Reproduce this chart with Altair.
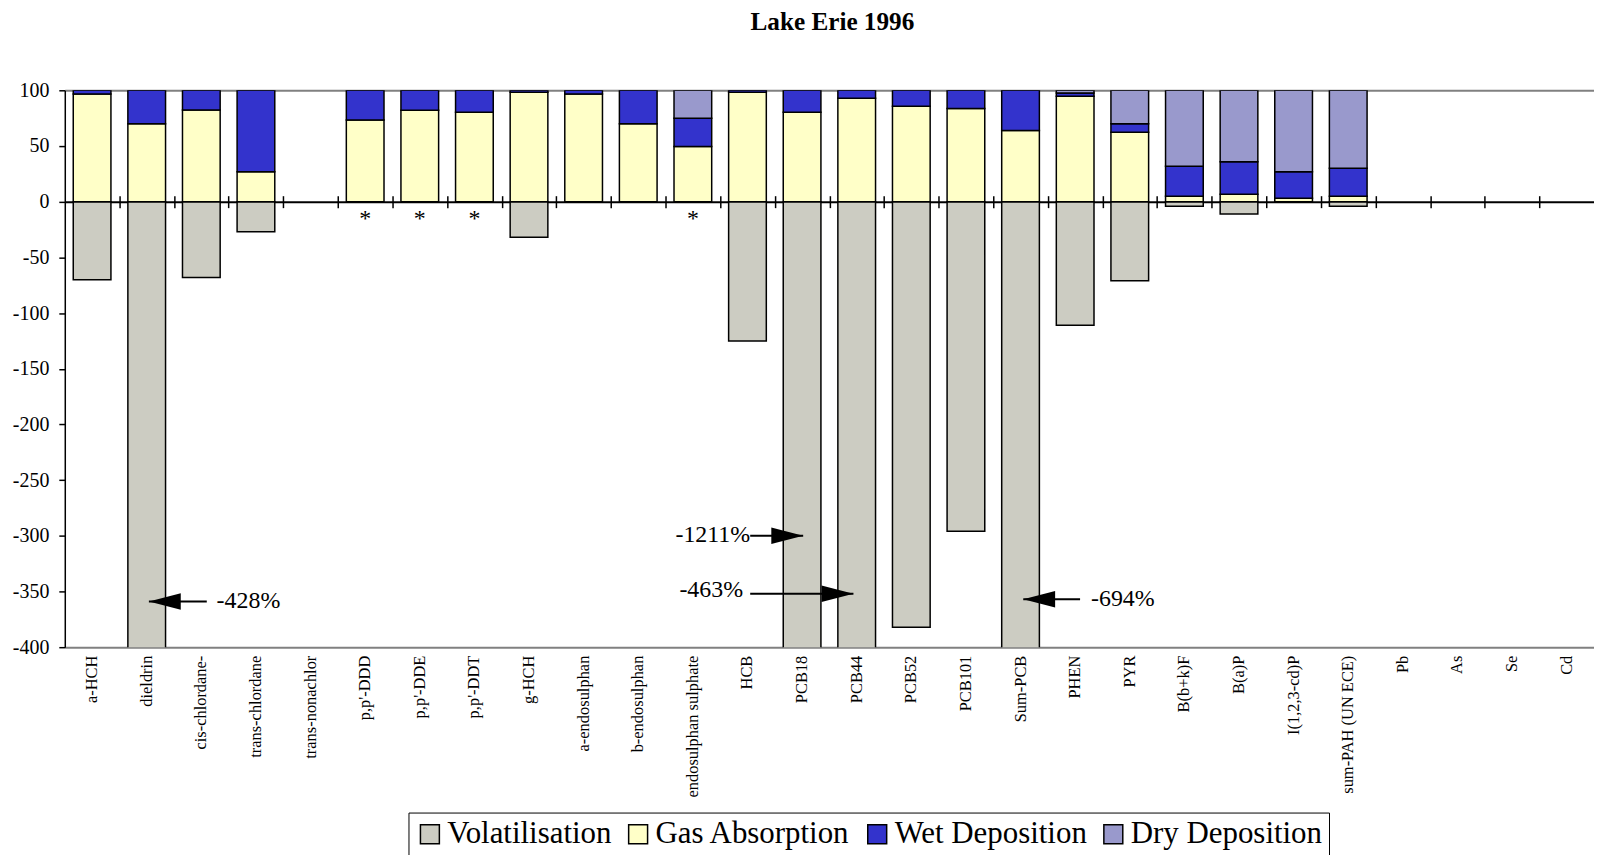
import altair as alt
import pandas as pd

# ---------------- data ----------------
categories = ["a-HCH", "dieldrin", "cis-chlordane-", "trans-chlordane", "trans-nonachlor",
              "p,p'-DDD", "p,p'-DDE", "p,p'-DDT", "g-HCH", "a-endosulphan", "b-endosulphan",
              "endosulphan sulphate", "HCB", "PCB18", "PCB44", "PCB52", "PCB101", "Sum-PCB",
              "PHEN", "PYR", "B(b+k)F", "B(a)P", "I(1,2,3-cd)P", "sum-PAH (UN ECE)",
              "Pb", "As", "Se", "Cd"]

volatilisation = [-70, -428, -68, -27, None, None, None, None, -32, None, None, None, -125,
                  -1211, -463, -382, -296, -694, -111, -71, -4, -11, None, -4,
                  None, None, None, None]
gas_absorption = [96.7, 70.0, 82.4, 26.9, None, 73.4, 82.1, 80.3, 98.2, 96.7, 69.9, 49.6, 98.2,
                  80.3, 92.8, 85.7, 83.6, 63.9, 94.6, 62.4, 4.8, 6.6, 3.0, 4.8,
                  None, None, None, None]
wet_deposition = [3.3, 30.0, 17.6, 73.1, None, 26.6, 17.9, 19.7, 1.8, 3.3, 30.1, 25.3, 1.8,
                  19.7, 7.2, 14.3, 16.4, 36.1, 3.0, 7.5, 27.1, 29.2, 23.9, 25.3,
                  None, None, None, None]
dry_deposition = [None, None, None, None, None, None, None, None, None, None, None, 25.1, None,
                  None, None, None, None, None, 2.4, 30.1, 68.1, 64.2, 73.1, 69.9,
                  None, None, None, None]

series_names = ["Volatilisation", "Gas Absorption", "Wet Deposition", "Dry Deposition"]
series_colors = ["#CCCCC2", "#FFFFC8", "#3333CC", "#9999CC"]

# annotations: clipped values, arrows
arrow_labels = ["-428%", "-1211%", "-463%", "-694%"]
arrow_y = [-359, -300, -352, -357]
arrow_tip = [1.54, 13.52, 14.44, 17.55]        # in category-index units
arrow_tail = [2.60, 12.55, 12.55, 18.59]
arrow_text_x = [2.78, 12.55, 12.42, 18.79]
arrow_text_y = [-359, -299, -349, -357]
arrow_dir = ["left", "right", "right", "left"]

star_categories = ["p,p'-DDD", "p,p'-DDE", "p,p'-DDT", "endosulphan sulphate"]
star_y = -22

y_domain = [-400, 100]
y_ticks = list(range(-400, 101, 50))

# ---------------- layout ----------------
W = 1535
H = 559
N = len(categories)
PI = 0.31
zero_px = H * (y_domain[1] - 0) / (y_domain[1] - y_domain[0])
FONT = "Liberation Serif"

rows = []
for i, c in enumerate(categories):
    for k, (name, vals) in enumerate(zip(series_names,
                                         [volatilisation, gas_absorption, wet_deposition, dry_deposition])):
        v = vals[i]
        if v is not None:
            rows.append({"Substance": c, "Pathway": name, "Value": v, "k": k})
df = pd.DataFrame(rows)

y_scale = alt.Scale(domain=y_domain, nice=False)
y_axis = alt.Axis(title=None, values=y_ticks, labelExpr="toString(datum.value)",
                  labelFont=FONT, labelFontSize=20,
                  labelColor="black", labelPadding=10, labelFlush=False,
                  domainColor="black", domainWidth=1.5,
                  tickColor="black", tickWidth=1.5, tickSize=6,
                  grid=True, gridWidth=2, gridColor="#808080",
                  gridOpacity={"condition": {"test": "datum.value == 100 || datum.value == -400",
                                             "value": 1}, "value": 0})

bars = alt.Chart(df).mark_bar(stroke="black", strokeWidth=1.5, clip=True).encode(
    x=alt.X("Substance:N", sort=categories,
            scale=alt.Scale(domain=categories, paddingInner=PI, paddingOuter=PI / 2),
            axis=alt.Axis(title=None, labelAngle=-90, labelFont=FONT, labelFontSize=16.5,
                          labelColor="black", labelPadding=8, ticks=False, domain=False,
                          labelOverlap=False, labelLimit=0, grid=False)),
    y=alt.Y("Value:Q", stack="zero", scale=y_scale, axis=y_axis),
    color=alt.Color("Pathway:N",
                    scale=alt.Scale(domain=series_names, range=series_colors),
                    legend=alt.Legend(title=None, orient="none", legendX=345, legendY=725,
                                      direction="horizontal", columns=4,
                                      symbolType="square", symbolSize=361,
                                      symbolStrokeColor="black", symbolStrokeWidth=1.5,
                                      labelFont=FONT, labelFontSize=31, labelColor="black",
                                      labelLimit=0, labelOffset=2, columnPadding=11,
                                      padding=6, strokeColor="black", fillColor="white")),
    order=alt.Order("k:Q"),
)

# zero line with crossing ticks between categories
bounds = pd.DataFrame({"b": list(range(1, N))})
tick_top = alt.Chart(bounds).mark_point(opacity=0).encode(
    x=alt.X("b:Q", scale=alt.Scale(domain=[0, N], nice=False, zero=False),
            axis=alt.Axis(orient="top", offset=-zero_px, values=list(range(1, N)),
                          labels=False, title=None, grid=False,
                          ticks=True, tickSize=6, tickColor="black", tickWidth=1.5,
                          domain=True, domainColor="black", domainWidth=2)),
    y=alt.value(0),
)
tick_bottom = alt.Chart(bounds).mark_point(opacity=0).encode(
    x=alt.X("b:Q", scale=alt.Scale(domain=[0, N], nice=False, zero=False),
            axis=alt.Axis(orient="bottom", offset=-(H - zero_px), values=list(range(1, N)),
                          labels=False, title=None, grid=False,
                          ticks=True, tickSize=6, tickColor="black", tickWidth=1.5,
                          domain=False)),
    y=alt.value(0),
)

ann = pd.DataFrame({
    "label": arrow_labels, "y": arrow_y, "tip": arrow_tip, "tail": arrow_tail,
    "tx": arrow_text_x, "ty": arrow_text_y, "dir": arrow_dir,
})
ann["head"] = ann["dir"].map({"left": "M0,0L2,-0.52L2,0.52Z", "right": "M0,0L-2,-0.52L-2,0.52Z"})

xq = alt.Scale(domain=[0, N], nice=False, zero=False)

shafts = alt.Chart(ann).mark_rule(color="black", strokeWidth=2).encode(
    x=alt.X("tip:Q", scale=xq, axis=None),
    x2="tail:Q",
    y=alt.Y("y:Q", scale=y_scale, axis=y_axis),
)
heads = alt.Chart(ann).mark_point(filled=True, color="black", size=1024, opacity=1,
                                  strokeWidth=0).encode(
    x=alt.X("tip:Q", scale=xq, axis=None),
    y=alt.Y("y:Q", scale=y_scale, axis=y_axis),
    shape=alt.Shape("head:N", scale=None),
)
text_left = alt.Chart(ann).transform_filter("datum.dir == 'left'").mark_text(
    align="left", baseline="middle", font=FONT, fontSize=24, color="black").encode(
    x=alt.X("tx:Q", scale=xq, axis=None),
    y=alt.Y("ty:Q", scale=y_scale, axis=y_axis),
    text="label:N",
)
text_right = alt.Chart(ann).transform_filter("datum.dir == 'right'").mark_text(
    align="right", baseline="middle", font=FONT, fontSize=24, color="black").encode(
    x=alt.X("tx:Q", scale=xq, axis=None),
    y=alt.Y("ty:Q", scale=y_scale, axis=y_axis),
    text="label:N",
)

stars = pd.DataFrame({"Substance": star_categories})
stars["pos"] = [categories.index(c) + 0.5 for c in star_categories]
stars["y"] = star_y
stars["t"] = "*"
star_layer = alt.Chart(stars).mark_text(baseline="alphabetic", font=FONT, fontSize=24,
                                        color="black").encode(
    x=alt.X("pos:Q", scale=xq, axis=None),
    y=alt.Y("y:Q", scale=y_scale, axis=y_axis),
    text="t:N",
)

chart = alt.layer(bars, tick_top, tick_bottom, shafts, heads, text_left, text_right, star_layer).resolve_scale(
    x="independent"
).resolve_axis(
    x="independent"
).properties(
    width=W, height=H,
    title=alt.TitleParams("Lake Erie 1996", font=FONT, fontSize=25.3, fontWeight="bold",
                          color="black", anchor="middle", frame="group", offset=45, dx=3),
    padding={"left": 4, "top": 0, "right": 0, "bottom": 0},
    background="white",
).configure_view(stroke=None)

chart.save("out.html", embed_options={"renderer": "svg", "actions": False})
